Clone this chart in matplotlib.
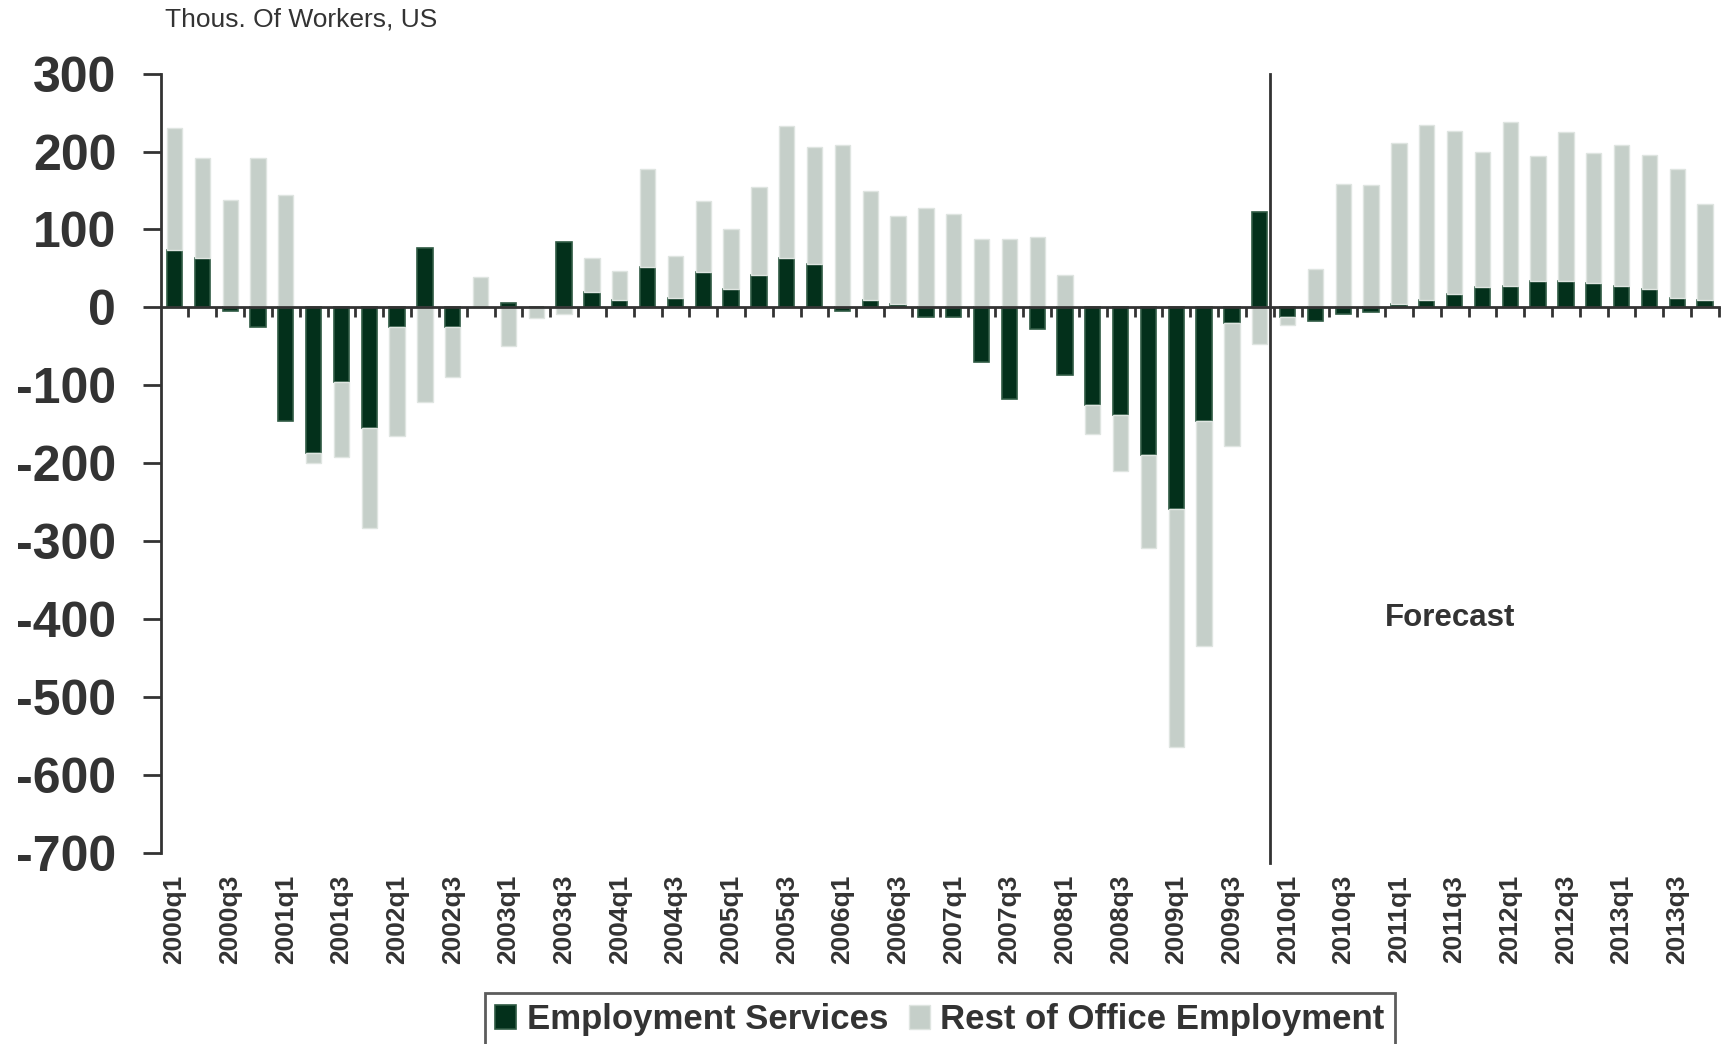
import numpy as np
import matplotlib
matplotlib.use("Agg")
import matplotlib.pyplot as plt

plt.rcParams['font.family'] = ['Liberation Sans', 'DejaVu Sans']

# quarters 2000q1 .. 2013q4
quarters = [f"{y}q{q}" for y in range(2000, 2014) for q in range(1, 5)]

# Employment Services (thous. of workers)
emp_services = [74, 63, -4, -25, -146, -187, -96, -155, -25, 76,
                -25, 0, 6, 0, 84, 20, 9, 52, 12, 45,
                23, 42, 63, 56, -4, 9, 4, -12, -12, -70,
                -117, -28, -87, -125, -138, -189, -259, -146, -20, 122,
                -12, -17, -9, -6, 4, 9, 17, 26, 28, 34,
                34, 31, 28, 23, 12, 9]

# Rest of Office Employment
rest_office = [156, 129, 138, 192, 144, -13, -96, -128, -140, -122,
               -65, 39, -49, -14, -9, 43, 38, 126, 54, 91,
               78, 113, 170, 150, 208, 140, 113, 128, 120, 88,
               88, 90, 41, -38, -72, -120, -305, -289, -158, -47,
               -11, 49, 159, 157, 207, 225, 210, 174, 210, 160,
               191, 167, 180, 172, 166, 124]

forecast_start = "2010q1"

dark = '#03301b'
light = '#c5cfc9'
grey = '#333333'

es = np.array(emp_services, dtype=float)
ro = np.array(rest_office, dtype=float)
x = np.arange(len(quarters))

# excel-style stacking: positives stack up, negatives stack down
same_sign = np.sign(es) == np.sign(ro)
ro_bottom = np.where(same_sign, es, 0)

fig = plt.figure(figsize=(17.25, 10.44), dpi=100)
ax = fig.add_axes([0.0931, 0.1833, 0.9034, 0.7461])

w = 0.55
ax.bar(x, es, width=w, color=dark, edgecolor='#2f5a43', linewidth=1.2,
       label='Employment Services', zorder=2)
ax.bar(x, ro, width=w, bottom=ro_bottom, color=light, edgecolor='#dfe5e1',
       linewidth=1.0, label='Rest of Office Employment', zorder=2)

ax.set_xlim(-0.5, len(quarters) - 0.5)
ax.set_ylim(-700, 300)
ax.set_yticks(np.arange(-700, 301, 100))
ax.set_yticklabels([str(v) for v in range(-700, 301, 100)],
                   fontsize=36, fontweight='bold', color=grey)
ax.tick_params(axis='y', length=13, width=2, color=grey, pad=19)

# zero line with ticks at category boundaries
ax.spines['bottom'].set_position(('data', 0))
ax.spines['bottom'].set_linewidth(2)
ax.spines['bottom'].set_color(grey)
ax.spines['bottom'].set_zorder(3)
ax.set_xticks(np.arange(0.5, len(quarters), 1))
ax.set_xticklabels([])
ax.tick_params(axis='x', length=7, width=2, color=grey, direction='out')
ax.spines['left'].set_linewidth(2)
ax.spines['left'].set_color(grey)
ax.spines['top'].set_visible(False)
ax.spines['right'].set_visible(False)

# category labels at bottom
sec = ax.secondary_xaxis('bottom')
sec.set_xticks(x[::2])
sec.set_xticklabels(quarters[::2], rotation=90, fontsize=19,
                    fontweight='bold', color=grey)
sec.tick_params(length=0, pad=16)
sec.spines['bottom'].set_visible(False)

# forecast divider
fi = quarters.index(forecast_start)
ax.axvline(fi - 0.65, ymin=-0.013, ymax=1, color=grey, lw=2, clip_on=False, zorder=3)
ax.text(45.85, -399, 'Forecast', fontsize=22.5, fontweight='bold',
        color=grey, ha='center', va='center')

fig.text(0.0957, 0.981, 'Thous. Of Workers, US', fontsize=19, color=grey,
         ha='left', va='center')

leg = ax.legend(loc='upper center', bbox_to_anchor=(0.5, -0.18), ncol=2,
                frameon=True, fancybox=False,
                prop={'weight': 'bold', 'size': 25},
                handlelength=0.6, handleheight=0.7, handletextpad=0.3,
                columnspacing=0.6, borderpad=0.3, borderaxespad=0)
leg.get_frame().set_edgecolor(grey)
leg.get_frame().set_linewidth(2)
for t in leg.get_texts():
    t.set_color(grey)

fig.savefig('out.png', dpi=100)
